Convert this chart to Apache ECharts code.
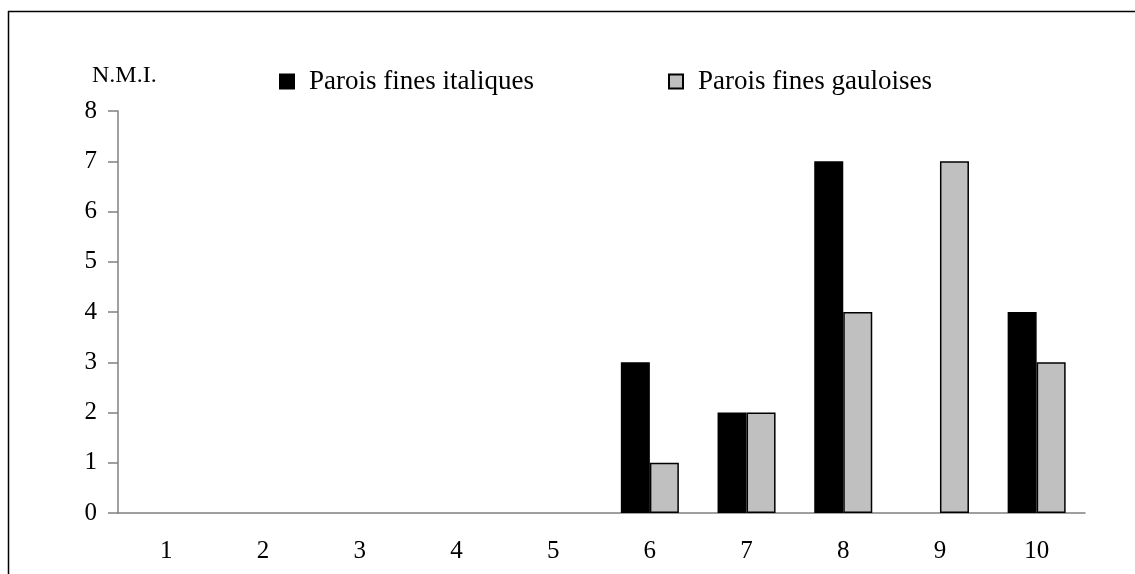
<!DOCTYPE html>
<html><head><meta charset="utf-8">
<script src="https://cdn.jsdelivr.net/npm/echarts@6/dist/echarts.min.js"></script>
<style>html,body{margin:0;padding:0;background:#fff}#c{width:1135px;height:574px}</style>
</head><body><div id="c"></div>
<script>
const categories = ['1','2','3','4','5','6','7','8','9','10'];
const italiques = [0,0,0,0,0,3,2,7,0,4];
const gauloises = [0,0,0,0,0,1,2,4,7,3];
const seriesNames = ['Parois fines italiques','Parois fines gauloises'];
const yTitle = 'N.M.I.';

const FONT = '"Liberation Serif", "Times New Roman", serif';
function toData(arr){ return arr.map(v => v === 0 ? {value:v, itemStyle:{borderWidth:0}} : v); }

const chart = echarts.init(document.getElementById('c'));
chart.setOption({
  animation:false,
  backgroundColor:'#fff',
  grid:{left:118, right:50, top:111, bottom:61},
  legend:[
    {data:[seriesNames[0]], left:279, top:68, padding:0, icon:'rect', itemWidth:14, itemHeight:14,
     textStyle:{fontFamily:FONT, fontSize:27, color:'#000', padding:[2,0,0,10]}},
    {data:[seriesNames[1]], left:668, top:68, padding:0, icon:'rect', itemWidth:14, itemHeight:14,
     textStyle:{fontFamily:FONT, fontSize:27, color:'#000', padding:[2,0,0,10]}}
  ],
  xAxis:{type:'category', data:categories,
    axisLine:{lineStyle:{color:'#808080', width:1.5}},
    axisTick:{length:6, lineStyle:{color:'#808080', width:1.5}},
    axisLabel:{fontFamily:FONT, fontSize:25, color:'#000', margin:26}},
  yAxis:{type:'value', min:0, max:8, interval:1,
    axisLine:{show:true, lineStyle:{color:'#808080', width:1.5}},
    axisTick:{show:true, length:10, lineStyle:{color:'#808080', width:1.5}},
    splitLine:{show:false},
    axisLabel:{fontFamily:FONT, fontSize:25, color:'#000', margin:21}},
  graphic:[
    {type:'line', shape:{x1:8, y1:11.5, x2:1135, y2:11.5}, style:{stroke:'#000', lineWidth:1.5}},
    {type:'line', shape:{x1:8.5, y1:11, x2:8.5, y2:574}, style:{stroke:'#000', lineWidth:1.5}},
    {type:'text', left:92, top:64, style:{text:yTitle, font:'24px '+FONT, fill:'#000'}}
  ],
  series:[
    {name:seriesNames[0], type:'bar', data:toData(italiques), barGap:'0%', barCategoryGap:'40%',
     itemStyle:{color:'#000', borderColor:'#000', borderWidth:1.5}},
    {name:seriesNames[1], type:'bar', data:toData(gauloises), barGap:'0%', barCategoryGap:'40%',
     itemStyle:{color:'#c0c0c0', borderColor:'#000', borderWidth:1.5}}
  ]
});
</script></body></html>
